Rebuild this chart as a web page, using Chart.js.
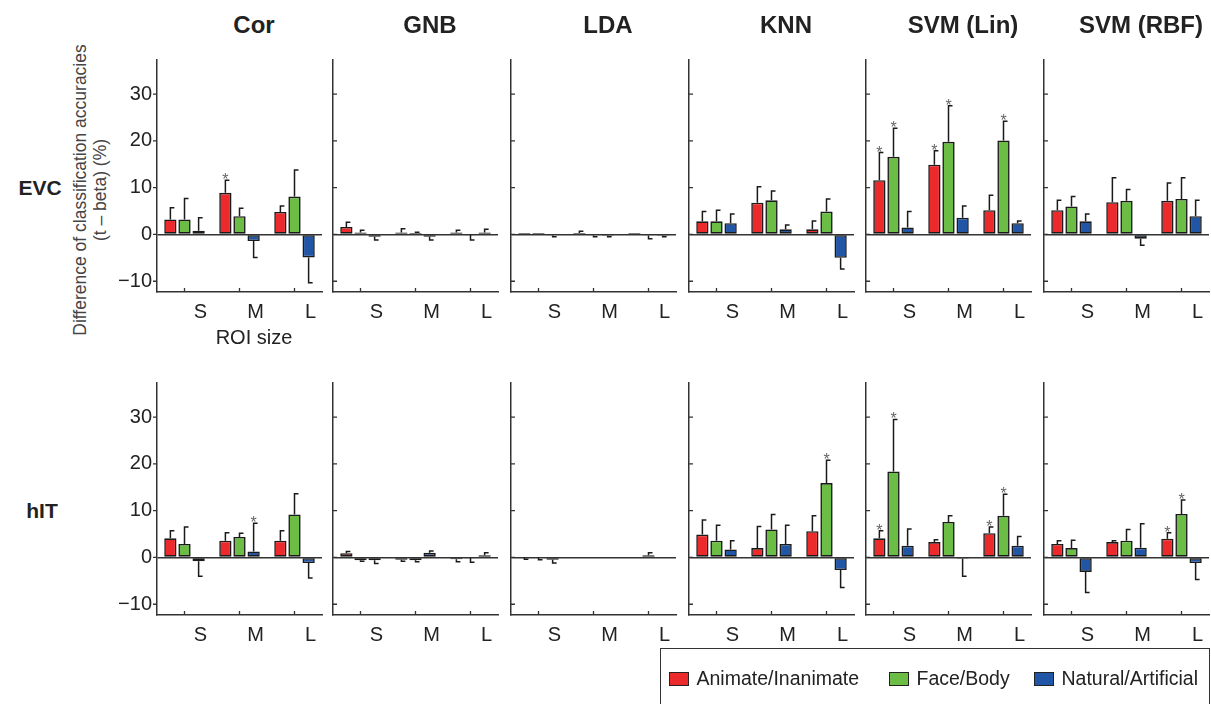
<!DOCTYPE html>
<html>
<head>
<meta charset="utf-8">
<script src="https://cdn.jsdelivr.net/npm/chart.js@4.4.0/dist/chart.umd.min.js"></script>
<style>
  html, body { margin: 0; padding: 0; background: #fff; }
  body { width: 1211px; height: 704px; position: relative; overflow: hidden;
         font-family: "Liberation Sans", Arial, Helvetica, sans-serif; color: #222; }
  .panel { position: absolute; }
  .title { position: absolute; font-weight: bold; font-size: 24px; transform: translate(-50%, -50%); white-space: nowrap; }
  .rowlab { position: absolute; font-weight: bold; font-size: 21px; transform: translate(-50%, -50%); white-space: nowrap; }
  .ytitle { position: absolute; font-size: 17.5px; color: #444; white-space: nowrap;
            transform: translate(-50%, -50%) rotate(-90deg); }
  .xtitle { position: absolute; font-size: 20px; transform: translate(-50%, -50%); white-space: nowrap; }
  #legend { position: absolute; left: 660px; top: 648px; width: 550px; height: 70px;
            border: 1.5px solid #333; box-sizing: border-box; }
  .item { position: absolute; top: 18px; font-size: 19.5px; white-space: nowrap; }
  .sw { display: inline-block; width: 18px; height: 12px; border: 1.3px solid #222;
        vertical-align: -1px; margin-right: 8px; }
</style>
</head>
<body>
<script>
const sizes = ['S', 'M', 'L'];
const methods = ['Cor', 'GNB', 'LDA', 'KNN', 'SVM (Lin)', 'SVM (RBF)'];
const regions = ['EVC', 'hIT'];
const seriesNames = ['Animate/Inanimate', 'Face/Body', 'Natural/Artificial'];
const seriesColors = ['#ec2a2c', '#6cbd45', '#2155a5'];
const yTicks = [-10, 0, 10, 20, 30];

// values per method, [S, M, L]
const evcAnimate    = [[3.2, 8.9, 4.8], [1.6, 0.4, 0.4], [0.3, 0.3, 0.3], [2.8, 6.8, 1.1], [11.6, 14.9, 5.2], [5.2, 6.9, 7.2]];
const evcAnimateErr = [[5.7, 11.6, 6.1], [2.6, 1.2, 0.9], [0.4, 0.7, 0.4], [4.9, 10.2, 2.9], [17.5, 17.9, 8.4], [7.3, 12.1, 11.0]];
const evcFace       = [[3.2, 3.9, 8.1], [0.4, 0.3, -0.1], [0.3, -0.2, -0.2], [2.8, 7.3, 4.9], [16.6, 19.8, 20.1], [6.0, 7.2, 7.6]];
const evcFaceErr    = [[7.7, 5.6, 13.8], [0.9, 0.5, -1.2], [0.4, -0.5, -0.9], [5.2, 9.3, 7.6], [22.7, 27.5, 24.2], [8.1, 9.6, 12.1]];
const evcNatural    = [[0.8, -1.4, -4.9], [-0.5, -0.5, 0.4], [-0.2, -0.3, -0.3], [2.4, 1.1, -5.0], [1.5, 3.6, 2.4], [2.8, -0.9, 3.9]];
const evcNaturalErr = [[3.6, -4.9, -10.3], [-1.2, -1.2, 1.1], [-0.5, -0.5, -0.5], [4.4, 2.0, -7.4], [4.9, 6.1, 2.9], [4.4, -2.3, 7.3]];

const hitAnimate    = [[4.1, 3.6, 3.6], [0.9, -0.5, -0.4], [0, 0, 0], [4.9, 2.0, 5.6], [4.1, 3.3, 5.2], [2.9, 3.3, 4.0]];
const hitAnimateErr = [[5.7, 5.3, 5.7], [1.3, -0.8, -0.9], [-0.4, 0, 0], [8.0, 6.6, 8.9], [5.7, 3.8, 6.5], [3.6, 3.6, 5.3]];
const hitFace       = [[2.9, 4.4, 9.2], [-0.6, -0.6, -0.1], [0, 0, 0.5], [3.6, 6.0, 15.9], [18.4, 7.6, 8.9], [2.0, 3.6, 9.3]];
const hitFaceErr    = [[6.5, 5.2, 13.6], [-0.8, -0.9, -1.0], [-0.5, 0, 1.0], [6.9, 9.2, 20.8], [29.5, 8.9, 13.5], [3.7, 6.0, 12.3]];
const hitNatural    = [[-0.8, 1.3, -1.2], [-0.6, 1.0, 0.5], [-0.5, 0, 0], [1.7, 2.9, -2.7], [2.5, -0.3, 2.5], [-3.1, 2.1, -1.2]];
const hitNaturalErr = [[-4.0, 7.3, -4.4], [-1.3, 1.4, 1.0], [-1.2, 0, 0], [3.6, 6.9, -6.4], [6.1, -4.0, 4.5], [-7.5, 7.2, -4.7]];

// significant bars: [method, size, series]
const evcStars = [[0, 1, 0], [4, 0, 0], [4, 0, 1], [4, 1, 0], [4, 1, 1], [4, 2, 1]];
const hitStars = [[0, 1, 2], [3, 2, 1], [4, 0, 0], [4, 0, 1], [4, 2, 0], [4, 2, 1], [5, 2, 0], [5, 2, 1]];

const rowData = [
  { vals: [evcAnimate, evcFace, evcNatural], errs: [evcAnimateErr, evcFaceErr, evcNaturalErr], stars: evcStars },
  { vals: [hitAnimate, hitFace, hitNatural], errs: [hitAnimateErr, hitFaceErr, hitNaturalErr], stars: hitStars }
];

// layout
const colLeft = [157, 333, 511, 689, 866, 1044];
const rowTop = [60, 383];
const plotW = 165, plotH = 232;
const padL = 45, padT = 20, padR = 6, padB = 40;
const font = '"Liberation Sans", Arial, Helvetica, sans-serif';

const errorBars = {
  id: 'errorBars',
  afterDatasetsDraw(chart) {
    const ctx = chart.ctx, ys = chart.scales.y;
    ctx.save();
    ctx.strokeStyle = '#1a1a1a';
    ctx.lineWidth = 1.5;
    chart.data.datasets.forEach((ds, i) => {
      chart.getDatasetMeta(i).data.forEach((bar, j) => {
        const y0 = ys.getPixelForValue(ds.data[j]);
        const y1 = ys.getPixelForValue(ds.err[j]);
        if (Math.abs(y1 - y0) > 0.5) {
          ctx.beginPath();
          ctx.moveTo(bar.x, y0);
          ctx.lineTo(bar.x, y1);
          ctx.lineTo(bar.x + 4, y1);
          ctx.stroke();
        }
        if (ds.stars[j]) {
          ctx.fillStyle = '#666';
          ctx.font = '16px ' + font;
          ctx.textAlign = 'center';
          ctx.textBaseline = 'alphabetic';
          ctx.fillText('*', bar.x, Math.min(y0, y1) + 5);
        }
      });
    });
    ctx.restore();
  }
};

const tickMarks = {
  id: 'tickMarks',
  afterDraw(chart, args, opts) {
    const ctx = chart.ctx, xs = chart.scales.x, ys = chart.scales.y, a = chart.chartArea;
    ctx.save();
    ctx.strokeStyle = '#333';
    ctx.lineWidth = 1.3;
    ctx.beginPath();
    sizes.forEach((s, i) => {
      const px = xs.getPixelForValue(i);
      ctx.moveTo(px, a.bottom);
      ctx.lineTo(px, a.bottom - 4);
    });
    yTicks.forEach(v => {
      const py = ys.getPixelForValue(v);
      ctx.moveTo(a.left, py);
      ctx.lineTo(opts.outward ? a.left - 4 : a.left + 4, py);
    });
    ctx.stroke();
    ctx.restore();
  }
};

function makePanel(r, m) {
  const div = document.createElement('div');
  div.className = 'panel';
  div.style.left = (colLeft[m] - padL) + 'px';
  div.style.top = (rowTop[r] - padT) + 'px';
  div.style.width = (padL + plotW + padR) + 'px';
  div.style.height = (padT + plotH + padB) + 'px';
  const cv = document.createElement('canvas');
  div.appendChild(cv);
  document.body.appendChild(div);

  const rd = rowData[r];
  const datasets = seriesNames.map((name, k) => ({
    label: name,
    data: rd.vals[k][m],
    err: rd.errs[k][m],
    stars: sizes.map((s, j) => rd.stars.some(t => t[0] === m && t[1] === j && t[2] === k)),
    backgroundColor: seriesColors[k],
    borderColor: '#1a1a1a',
    borderWidth: 1.6,
    borderSkipped: false,
    categoryPercentage: 0.77,
    barPercentage: 0.87
  }));

  new Chart(cv, {
    type: 'bar',
    data: { labels: sizes, datasets },
    options: {
      responsive: true,
      maintainAspectRatio: false,
      animation: false,
      events: [],
      layout: { padding: { left: 0, top: padT, right: padR, bottom: 0 } },
      plugins: { legend: { display: false }, tooltip: { enabled: false }, tickMarks: { outward: m === 0 } },
      scales: {
        x: {
          grid: { display: false, drawTicks: false },
          border: { color: '#333', width: 1.5 },
          ticks: { color: '#222', font: { family: font, size: 20 }, padding: 8, labelOffset: 16, maxRotation: 0 },
          afterFit: s => { s.height = padB; }
        },
        y: {
          min: -12.3, max: 37.3,
          afterBuildTicks: s => { s.ticks = yTicks.map(v => ({ value: v })); },
          grid: { drawTicks: false, lineWidth: 1.5, color: c => c.tick && c.tick.value === 0 ? '#333' : 'rgba(0,0,0,0)' },
          border: { color: '#333', width: 1.5 },
          ticks: {
            display: m === 0, color: '#222', font: { family: font, size: 20 }, padding: 5,
            callback: v => v < 0 ? '\u2212' + Math.abs(v) : String(v)
          },
          afterFit: s => { s.width = padL; }
        }
      }
    },
    plugins: [errorBars, tickMarks]
  });
}

regions.forEach((reg, r) => methods.forEach((meth, m) => makePanel(r, m)));

function addText(cls, txt, x, y) {
  const d = document.createElement('div');
  d.className = cls;
  d.textContent = txt;
  d.style.left = x + 'px';
  d.style.top = y + 'px';
  document.body.appendChild(d);
}
methods.forEach((meth, m) => addText('title', meth, colLeft[m] + 97, 25));
addText('rowlab', regions[0], 40, 188);
addText('rowlab', regions[1], 42, 511);
addText('ytitle', 'Difference of classification accuracies', 80, 190);
addText('ytitle', '(t \u2013 beta) (%)', 100, 190);
addText('xtitle', 'ROI size', 254, 337);

const legend = document.createElement('div');
legend.id = 'legend';
const legendX = [7.5, 227.5, 372.5];
seriesNames.forEach((name, k) => {
  const it = document.createElement('div');
  it.className = 'item';
  it.style.left = legendX[k] + 'px';
  const sw = document.createElement('span');
  sw.className = 'sw';
  sw.style.background = seriesColors[k];
  it.appendChild(sw);
  it.appendChild(document.createTextNode(name));
  legend.appendChild(it);
});
document.body.appendChild(legend);
</script>
</body>
</html>
